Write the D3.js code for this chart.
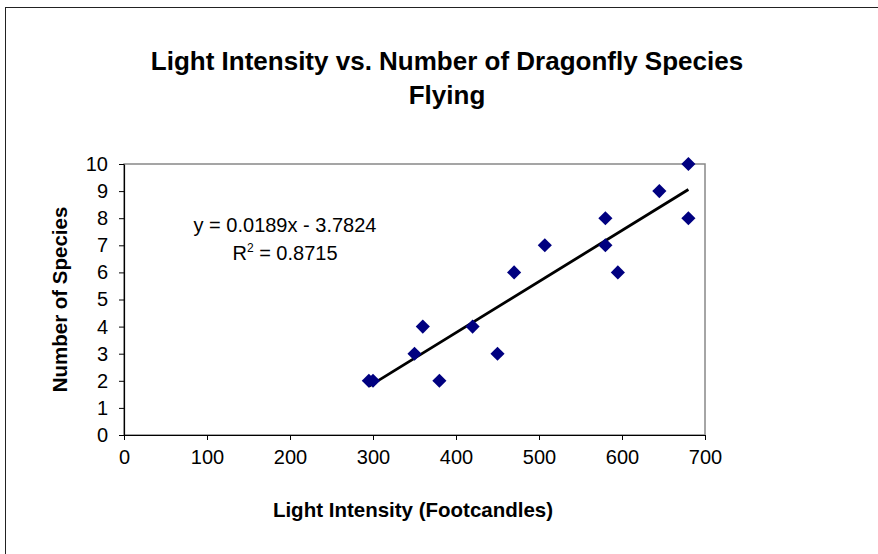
<!DOCTYPE html>
<html>
<head>
<meta charset="utf-8">
<script src="https://cdn.jsdelivr.net/npm/d3@7"></script>
<style>
  body { margin: 0; background: #fff; }
  svg { display: block; font-family: "Liberation Sans", Arial, sans-serif; }
</style>
</head>
<body>
<div id="chart"></div>
<script>
// light intensity (footcandles) and number of species flying
var lightIntensity = [295, 300, 350, 360, 380, 420, 450, 470, 507, 580, 580, 595, 645, 680, 680];
var speciesCount   = [2, 2, 3, 4, 2, 4, 3, 6, 7, 8, 7, 6, 9, 10, 8];

var xTicks = [0, 100, 200, 300, 400, 500, 600, 700];
var yTicks = [0, 1, 2, 3, 4, 5, 6, 7, 8, 9, 10];

var titleLines = ["Light Intensity vs. Number of Dragonfly Species", "Flying"];
var eqLines = ["y = 0.0189x - 3.7824", "0.8715"];

var width = 878, height = 554;
var margin = {top: 164, right: 173, bottom: 119, left: 124};

var svg = d3.select("#chart").append("svg")
    .attr("width", width)
    .attr("height", height);

// outer chart frame (cut off on right and bottom)
svg.append("rect")
    .attr("x", 5.5).attr("y", 7.5)
    .attr("width", 920).attr("height", 600)
    .attr("fill", "none")
    .attr("stroke", "#222")
    .attr("stroke-width", 1);

var x = d3.scaleLinear().domain([0, 700]).range([margin.left, width - margin.right]);
var y = d3.scaleLinear().domain([0, 10]).range([height - margin.bottom, margin.top]);

// plot area border
svg.append("rect")
    .attr("x", x(0)).attr("y", y(10))
    .attr("width", x(700) - x(0)).attr("height", y(0) - y(10))
    .attr("fill", "none")
    .attr("stroke", "#888")
    .attr("stroke-width", 1.5);

let xAxis = svg.append("g")
    .attr("transform", "translate(0," + y(0) + ")")
    .call(d3.axisBottom(x).tickValues(xTicks).tickSize(5).tickPadding(10).tickSizeOuter(0));

let yAxis = svg.append("g")
    .attr("transform", "translate(" + x(0) + ",0)")
    .call(d3.axisLeft(y).tickValues(yTicks).tickSize(5).tickPadding(11).tickSizeOuter(0));

[xAxis, yAxis].forEach(function (a) {
    a.select(".domain").attr("stroke", "#000").attr("stroke-width", 1.2);
    a.selectAll(".tick line").attr("stroke", "#000");
    a.selectAll("text")
        .attr("fill", "#000")
        .style("font-size", "20px")
        .style("font-family", "'Liberation Sans', Arial, sans-serif");
});

// least squares trend line
var n = lightIntensity.length;
var mx = d3.mean(lightIntensity), my = d3.mean(speciesCount);
var sxy = 0, sxx = 0;
for (var i = 0; i < n; i++) {
    sxy += (lightIntensity[i] - mx) * (speciesCount[i] - my);
    sxx += (lightIntensity[i] - mx) * (lightIntensity[i] - mx);
}
var slope = sxy / sxx, intercept = my - slope * mx;
var xmin = d3.min(lightIntensity), xmax = d3.max(lightIntensity);

svg.append("line")
    .attr("x1", x(xmin)).attr("y1", y(slope * xmin + intercept))
    .attr("x2", x(xmax)).attr("y2", y(slope * xmax + intercept))
    .attr("stroke", "#000")
    .attr("stroke-width", 2.8);

// diamond markers
var diamond = d3.symbol().type(d3.symbolSquare).size(100);
svg.append("g").selectAll("path")
    .data(lightIntensity)
    .enter().append("path")
    .attr("d", diamond)
    .attr("transform", function (d, i) {
        return "translate(" + x(d) + "," + y(speciesCount[i]) + ") rotate(45)";
    })
    .attr("fill", "#000080");

// title
svg.append("g").selectAll("text")
    .data(titleLines)
    .enter().append("text")
    .attr("x", 447)
    .attr("y", function (d, i) { return 70 + i * 34; })
    .attr("text-anchor", "middle")
    .style("font-size", "26px")
    .style("font-weight", "bold")
    .text(function (d) { return d; });

// axis titles
svg.append("text")
    .attr("x", 413).attr("y", 517)
    .attr("text-anchor", "middle")
    .style("font-size", "20.5px")
    .style("font-weight", "bold")
    .text("Light Intensity (Footcandles)");

svg.append("text")
    .attr("transform", "translate(67," + ((y(0) + y(10)) / 2) + ") rotate(-90)")
    .attr("text-anchor", "middle")
    .style("font-size", "20.5px")
    .style("font-weight", "bold")
    .text("Number of Species");

// equation label
svg.append("text")
    .attr("x", 285).attr("y", 232)
    .attr("text-anchor", "middle")
    .style("font-size", "20px")
    .text(eqLines[0]);

let r2 = svg.append("text")
    .attr("x", 285).attr("y", 260)
    .attr("text-anchor", "middle")
    .style("font-size", "20px");
r2.append("tspan").text("R");
r2.append("tspan").attr("dy", -8).style("font-size", "12px").text("2");
r2.append("tspan").attr("dy", 8).text(" = " + eqLines[1]);
</script>
</body>
</html>
